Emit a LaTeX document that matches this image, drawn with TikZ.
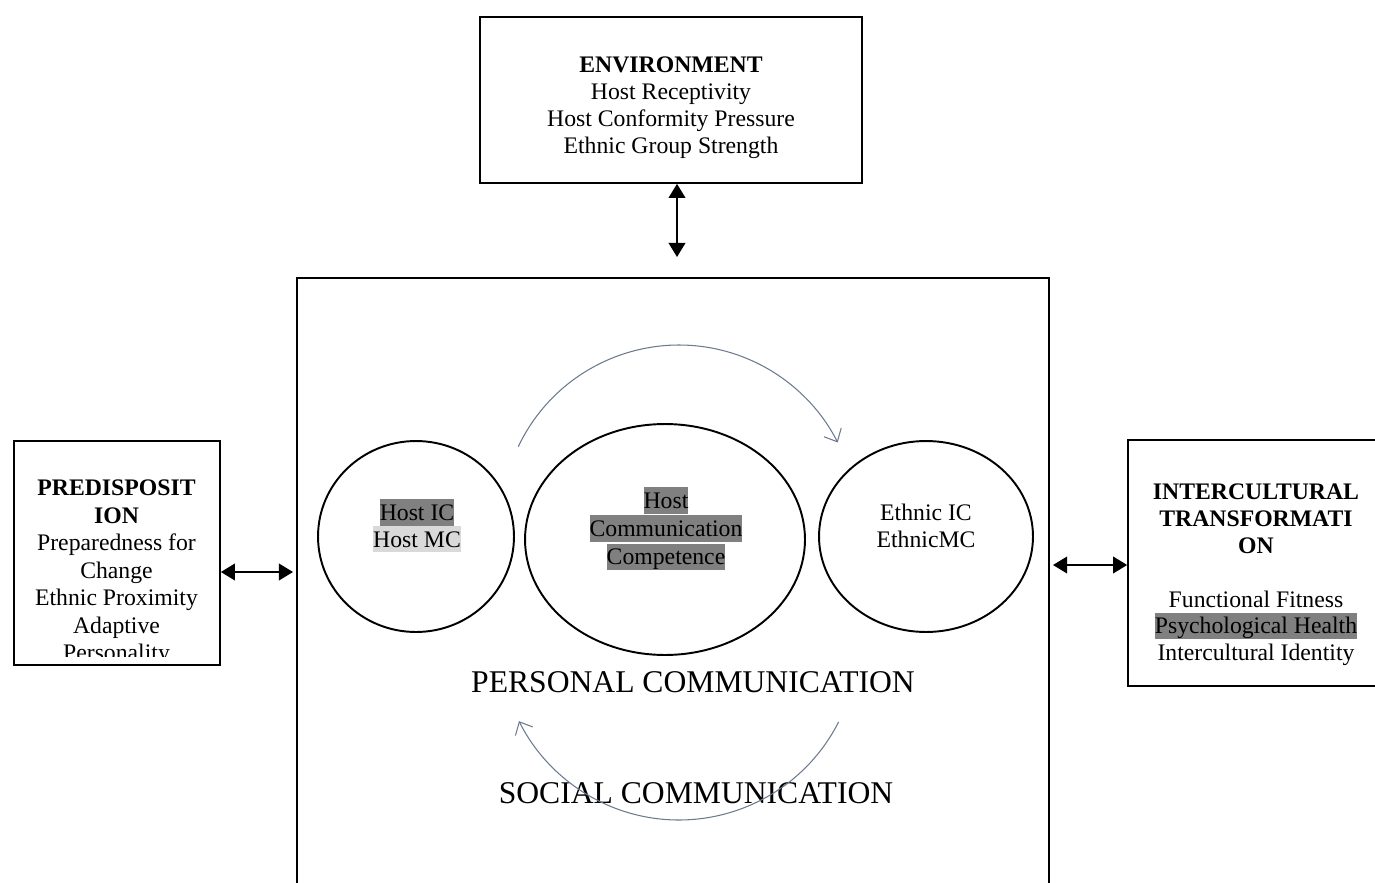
\documentclass[tikz,border=0pt]{standalone}
\usepackage{fontspec}
\setmainfont{Liberation Serif}
\usetikzlibrary{arrows.meta,shapes.geometric}

\definecolor{arcgray}{RGB}{108,122,142}
\definecolor{hldark}{RGB}{128,128,128}
\definecolor{hllight}{RGB}{217,217,217}

% line strut matching a word-processor highlight band
\newcommand\lnstrut{\rule[-0.216em]{0pt}{1.107em}}
\newcommand\hlbox[2]{{\setlength{\fboxsep}{0pt}\colorbox{#1}{\lnstrut#2}}}

\begin{document}
\begin{tikzpicture}[x=0.02cm,y=-0.02cm,
  boxnode/.style={draw, line width=1pt, rectangle, inner sep=0pt},
  ringnode/.style={draw, line width=1.1pt, ellipse, inner sep=0pt},
  bodytext/.style={font=\fontsize{13.5}{15.3}\selectfont, align=center, inner sep=0pt, anchor=north},
  widetext/.style={bodytext, font=\fontsize{13.5}{15.7}\selectfont},
  bigtext/.style={font=\fontsize{18}{21}\selectfont, inner sep=0pt, anchor=base},
  linkarrow/.style={{Triangle[length=8pt,width=9.5pt]}-{Triangle[length=8pt,width=9.5pt]}, line width=0.9pt},
  cyclearrow/.style={-{Straight Barb[length=6pt,width=11pt]}, draw=arcgray, line width=0.6pt}]

\useasboundingbox (0,0) rectangle (1375,882);

% outer boxes
\node[boxnode, minimum width=7.64cm, minimum height=3.32cm] (env) at (671,100) {};
\node[boxnode, minimum width=4.12cm, minimum height=4.48cm] (pred) at (117,553) {};
\node[boxnode, minimum width=5.02cm, minimum height=4.92cm] (trans) at (1253.5,563) {};
\node[boxnode, minimum width=15.04cm, minimum height=12.44cm] (comm) at (673,589) {};

% communication competence rings
\node[ringnode, minimum width=3.92cm, minimum height=3.82cm] (hostc) at (416,536.5) {};
\node[ringnode, minimum width=5.6cm, minimum height=4.62cm] (compc) at (665,539.5) {};
\node[ringnode, minimum width=4.28cm, minimum height=3.82cm] (ethc) at (926,536.5) {};

% box texts
\node[bodytext] (envtxt) at (671,51.5)
  {\lnstrut\textbf{ENVIRONMENT}\\Host Receptivity\\Host Conformity Pressure\\Ethnic Group Strength};

\begin{scope}
  \clip (14,441) rectangle (220,656);
  \node[widetext] (predtxt) at (116.5,474)
    {\lnstrut\textbf{PREDISPOSIT}\\\textbf{ION}\\Preparedness for\\Change\\Ethnic Proximity\\Adaptive\\Personality};
\end{scope}

\node[bodytext] (transtxt) at (1256,478)
  {\lnstrut\textbf{INTERCULTURAL}\\\textbf{TRANSFORMATI}\\\textbf{ON}\\[15.3pt]Functional Fitness\\\hlbox{hldark}{Psychological Health}\\Intercultural Identity};

% ring texts
\node[bodytext] (hosttxt) at (417,499) {\hlbox{hldark}{Host IC}\\\hlbox{hllight}{Host MC}};
\node[widetext, font=\fontsize{13.5}{16}\selectfont] (comptxt) at (666,487)
  {\hlbox{hldark}{Host}\\\hlbox{hldark}{Communication}\\\hlbox{hldark}{Competence}};
\node[bodytext] (ethtxt) at (926,499) {\lnstrut Ethnic IC\\EthnicMC};

\node[bigtext] (personal) at (693,692.3) {PERSONAL COMMUNICATION};
\node[bigtext] (social) at (696,803) {SOCIAL COMMUNICATION};

% two-way links
\coordinate (envend) at (677,257);
\draw[linkarrow] (env.south -| envend) -- (envend);
\coordinate (predend) at (293,572);
\draw[linkarrow] (pred.east |- predend) -- (predend);
\coordinate (transstart) at (1053,565);
\draw[linkarrow] (transstart) -- (trans.west |- transstart);

% cycle arrows
\coordinate (topc) at (679,523);
\draw[cyclearrow] ([shift={(154.6:3.56cm)}]topc) arc[start angle=154.6, end angle=26.9, radius=3.56cm];
\coordinate (botc) at (679,641);
\draw[cyclearrow] ([shift={(-26.9:3.58cm)}]botc) arc[start angle=-26.9, end angle=-153.4, radius=3.58cm];

\end{tikzpicture}
\end{document}
